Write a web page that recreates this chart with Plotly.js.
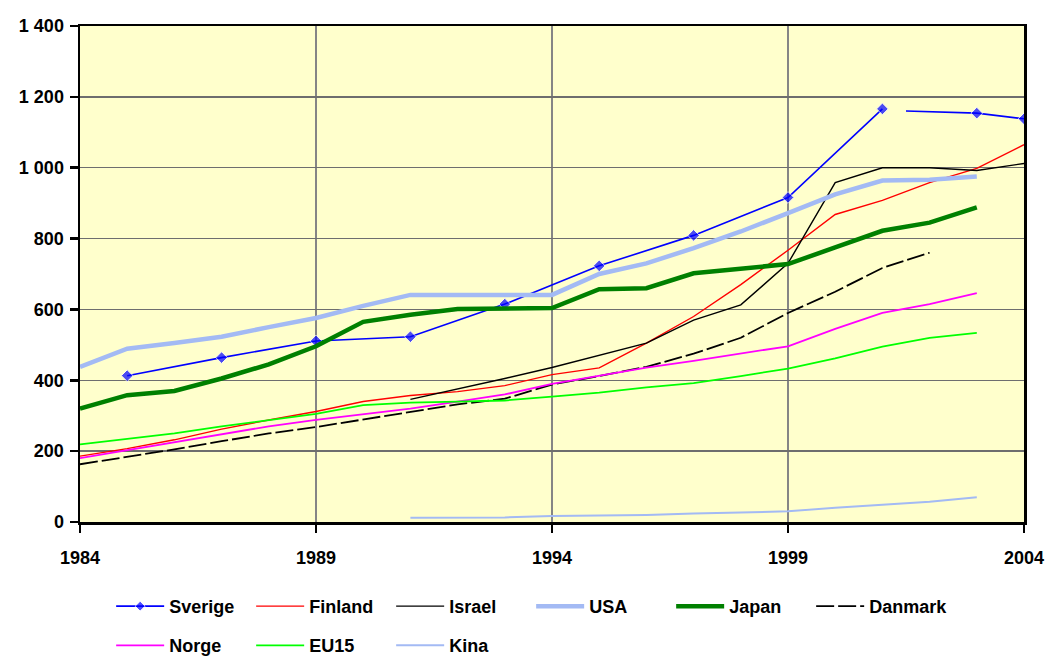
<!DOCTYPE html>
<html>
<head>
<meta charset="utf-8">
<script src="https://cdn.plot.ly/plotly-3.0.1.min.js"></script>
<style>html,body{margin:0;padding:0;background:#fff;}#chart{width:1045px;height:657px;}</style>
</head>
<body>
<div id="chart"></div>
<script>
// ---- data ----
const years = [1984,1985,1986,1987,1988,1989,1990,1991,1992,1993,1994,1995,1996,1997,1998,1999,2000,2001,2002,2003,2004];

const sverigeYears  = [1985,1987,1989,1991,1993,1995,1997,1999,2001,2001.25,2001.5,2003,2004];
const sverigeValues = [413,464,511,523,615,723,809,916,1166,null,1160,1154,1138];

const finlandValues = [186,207,232,262,288,312,340,357,368,385,416,435,505,580,670,767,868,908,958,998,1065];

const israelYears  = [1991,1992,1993,1994,1995,1996,1997,1998,1999,2000,2001,2002,2003,2004];
const israelValues = [346,375,405,436,470,505,570,613,730,958,1000,1000,992,1012];

const usaYears  = [1984,1985,1986,1987,1988,1989,1990,1991,1992,1993,1994,1995,1996,1997,1998,1999,2000,2001,2002,2003];
const usaValues = [438,489,505,523,550,576,610,641,641,641,641,700,730,773,820,872,925,964,966,975];

const japanValues = [320,358,370,405,445,496,565,585,601,604,604,657,660,702,716,728,775,822,845,888];

const danmarkYears  = [1984,1985,1986,1987,1988,1989,1990,1991,1992,1993,1994,1995,1996,1997,1998,1999,2000,2001,2002];
const danmarkValues = [163,183,205,228,250,268,290,312,332,348,388,412,438,475,520,590,650,717,760];

const norgeValues = [180,203,225,248,270,288,305,320,340,360,390,412,436,455,475,496,545,590,615,646];

const eu15Values = [219,235,250,270,288,305,330,337,340,343,354,365,380,392,412,433,462,495,520,534];

const kinaYears  = [1991,1992,1993,1994,1995,1996,1997,1998,1999,2000,2001,2002,2003];
const kinaValues = [12,12,13,17,18,20,24,26,30,40,48,57,70];

const xTickVals = [1984,1989,1994,1999,2004];
const xTickText = ['1984','1989','1994','1999','2004'];
const yTickVals = [0,200,400,600,800,1000,1200,1400];
const yTickText = ['0','200','400','600','800','1 000','1 200','1 400'];

// ---- chart ----
const FONT = '"Liberation Sans Narrow", "Arial Narrow", "Liberation Sans", Arial, sans-serif';
const upTo2003 = years.slice(0, 20);

const traces = [
  {name:'Sverige', x:sverigeYears, y:sverigeValues, mode:'lines+markers', connectgaps:false,
   line:{color:'#0000FF', width:1.6},
   marker:{symbol:'diamond', size:[9,9,9,9,9,9,9,9,9,0,0,9,9], color:'#0000FF'}, legend:'legend'},
  {name:'Finland', x:years, y:finlandValues, mode:'lines', line:{color:'#FF0000', width:1.4}, legend:'legend'},
  {name:'Israel', x:israelYears, y:israelValues, mode:'lines', line:{color:'#000000', width:1.4}, legend:'legend'},
  {name:'USA', x:usaYears, y:usaValues, mode:'lines', line:{color:'#A3BAF4', width:4.5}, legend:'legend'},
  {name:'Japan', x:upTo2003, y:japanValues, mode:'lines', line:{color:'#008000', width:4.5}, legend:'legend'},
  {name:'Danmark', x:danmarkYears, y:danmarkValues, mode:'lines', line:{color:'#000000', width:1.8, dash:'18px,4px'}, legend:'legend'},
  {name:'Norge', x:upTo2003, y:norgeValues, mode:'lines', line:{color:'#FF00FF', width:1.8}, legend:'legend2'},
  {name:'EU15', x:upTo2003, y:eu15Values, mode:'lines', line:{color:'#00FF00', width:1.8}, legend:'legend2'},
  {name:'Kina', x:kinaYears, y:kinaValues, mode:'lines', line:{color:'#A3BAF4', width:2}, legend:'legend2'}
];

const legendCommon = {
  orientation:'h', xanchor:'left', yanchor:'top', x:0.033,
  bgcolor:'rgba(0,0,0,0)', borderwidth:0,
  font:{family:FONT, size:18, color:'#000', weight:'bold'},
  itemwidth:48, entrywidth:77, entrywidthmode:'pixels', traceorder:'normal'
};

const layout = {
  width:1045, height:657,
  margin:{l:80, r:21, t:26, b:135, autoexpand:false},
  paper_bgcolor:'#FFFFFF', plot_bgcolor:'#FFFFCC',
  showlegend:true,
  legend:Object.assign({}, legendCommon, {y:-0.133}),
  legend2:Object.assign({}, legendCommon, {y:-0.212}),
  xaxis:{
    range:[1984,2004], tickvals:xTickVals, ticktext:xTickText,
    showgrid:true, gridcolor:'#858585', gridwidth:1.2,
    showline:true, linecolor:'#000', linewidth:2.5, mirror:true,
    ticks:'outside', ticklen:8, tickwidth:2.5, tickcolor:'#000',
    ticklabelstandoff:10, ticklabeloverflow:'allow',
    tickfont:{family:FONT, size:18, color:'#000', weight:'bold'},
    zeroline:false, fixedrange:true
  },
  yaxis:{
    range:[0,1400], tickvals:yTickVals, ticktext:yTickText,
    showgrid:true, gridcolor:'#6E6E6E', gridwidth:1.5,
    showline:true, linecolor:'#000', linewidth:2.5, mirror:true,
    ticks:'outside', ticklen:8, tickwidth:2.5, tickcolor:'#000',
    ticklabelstandoff:2,
    tickfont:{family:FONT, size:18, color:'#000', weight:'bold'},
    zeroline:false, fixedrange:true
  }
};

Plotly.newPlot('chart', traces, layout, {displayModeBar:false, staticPlot:true});
</script>
</body>
</html>
